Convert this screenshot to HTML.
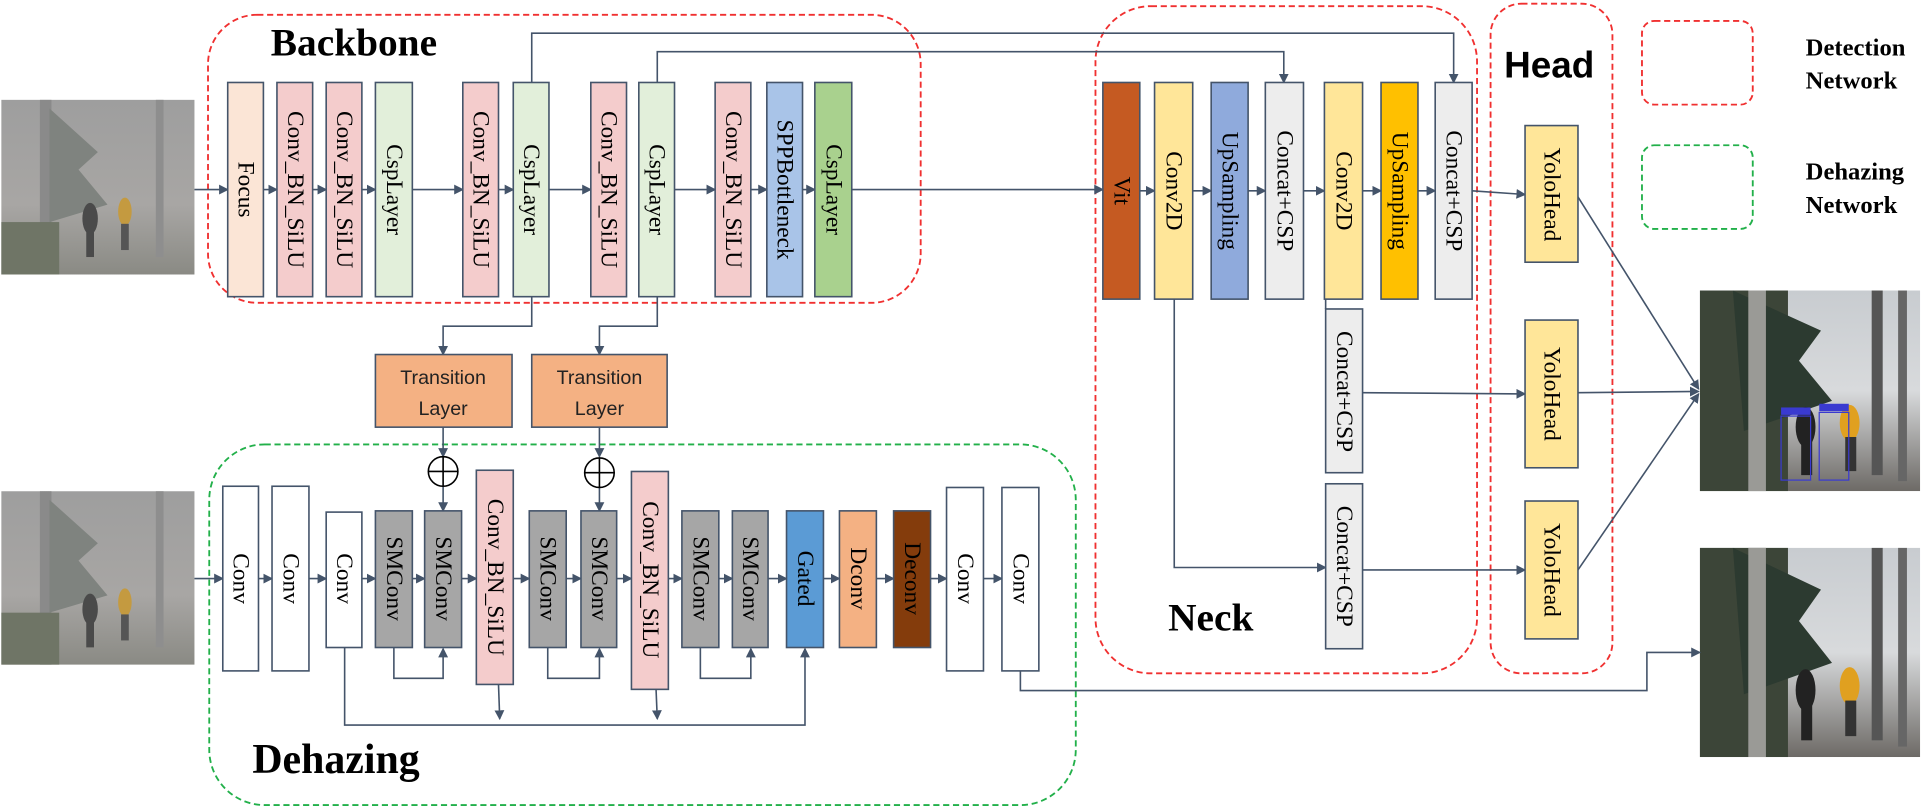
<!DOCTYPE html>
<html><head><meta charset="utf-8"><style>
html,body{margin:0;padding:0;background:#fff;}
svg{display:block;}
.b{stroke:#44546a;stroke-width:1.3;}
.t{font-family:"Liberation Serif",serif;font-size:19px;fill:#000;}
.ln{fill:none;stroke:#44546a;stroke-width:1.3;}
.big{font-family:"Liberation Serif",serif;font-weight:bold;fill:#000;}
</style></head><body>
<svg width="1930" height="810" viewBox="0 0 1568 658" preserveAspectRatio="none" xmlns="http://www.w3.org/2000/svg">
<defs>
<marker id="a" markerWidth="8" markerHeight="8" refX="7" refY="4" orient="auto" markerUnits="userSpaceOnUse"><path d="M0,0 L8,4 L0,8 z" fill="#44546a"/></marker>
<linearGradient id="haze" x1="0" y1="0" x2="0" y2="1"><stop offset="0" stop-color="#9e9e9e"/><stop offset="0.6" stop-color="#a8a6a4"/><stop offset="1" stop-color="#8a8a84"/></linearGradient>
<linearGradient id="clear" x1="0" y1="0" x2="0" y2="1"><stop offset="0" stop-color="#c8ccd0"/><stop offset="0.5" stop-color="#d8dadc"/><stop offset="1" stop-color="#6d6a66"/></linearGradient>
<symbol id="hz" viewBox="0 0 100 100" preserveAspectRatio="none">
<rect width="100" height="100" fill="url(#haze)"/>
<rect x="20" y="0" width="6" height="100" fill="#8a8a8a"/>
<path d="M25 5 L50 30 L40 40 L55 60 L25 70 Z" fill="#7f837f"/>
<rect x="0" y="70" width="30" height="30" fill="#6f7566"/>
<rect x="80" y="0" width="4" height="90" fill="#8e8e8e"/>
<ellipse cx="46" cy="68" rx="4" ry="9" fill="#4a4a4a"/><rect x="44" y="75" width="4" height="15" fill="#4a4a4a"/>
<ellipse cx="64" cy="64" rx="3.5" ry="8" fill="#c49a40"/><rect x="62" y="71" width="4" height="15" fill="#555"/>
</symbol>
<symbol id="cl" viewBox="0 0 100 100" preserveAspectRatio="none">
<rect width="100" height="100" fill="url(#clear)"/>
<rect x="0" y="0" width="40" height="100" fill="#3c4538"/>
<path d="M15 0 L55 20 L45 35 L60 55 L20 70 Z" fill="#2c3a30"/>
<rect x="22" y="0" width="8" height="100" fill="#9a9a96"/>
<rect x="78" y="0" width="5" height="92" fill="#555"/><rect x="90" y="0" width="4" height="95" fill="#666"/>
<ellipse cx="48" cy="68" rx="4.5" ry="10" fill="#222"/><rect x="46" y="75" width="5" height="17" fill="#222"/>
<ellipse cx="68" cy="66" rx="4.5" ry="9" fill="#e0a020"/><rect x="66" y="73" width="5" height="17" fill="#333"/>
</symbol>
</defs>

<use href="#hz" x="1" y="81" width="157" height="142"/>
<use href="#hz" x="1" y="399" width="157" height="141"/>
<use href="#cl" x="1381" y="236" width="179" height="163"/>
<rect x="1447" y="338" width="24" height="52" fill="none" stroke="#3a3ad0" stroke-width="1"/>
<rect x="1478" y="335" width="24" height="55" fill="none" stroke="#3a3ad0" stroke-width="1"/>
<rect x="1447" y="331" width="24" height="6" fill="#3a3ad0"/><rect x="1478" y="328" width="24" height="6" fill="#3a3ad0"/>
<use href="#cl" x="1381" y="445" width="179" height="170"/>

<rect x="169" y="12" width="579" height="234" rx="40" fill="none" stroke="#f03030" stroke-width="1.5" stroke-dasharray="5,3"/>
<rect x="890" y="5" width="310" height="542" rx="45" fill="none" stroke="#f03030" stroke-width="1.5" stroke-dasharray="5,3"/>
<rect x="1211" y="3" width="99" height="544" rx="25" fill="none" stroke="#f03030" stroke-width="1.5" stroke-dasharray="5,3"/>
<rect x="170" y="361" width="704" height="293" rx="45" fill="none" stroke="#22b04a" stroke-width="1.5" stroke-dasharray="5,3"/>
<rect x="1334" y="17" width="90" height="68" rx="10" fill="none" stroke="#f03030" stroke-width="1.5" stroke-dasharray="5,3"/>
<rect x="1334" y="118" width="90" height="68" rx="10" fill="none" stroke="#22b04a" stroke-width="1.5" stroke-dasharray="5,3"/>

<text class="big" x="220" y="45" font-size="32">Backbone</text>
<text class="big" x="949" y="512" font-size="32">Neck</text>
<text class="big" x="1222" y="63" font-size="30" style="font-family:'Liberation Sans',sans-serif">Head</text>
<text class="big" x="205" y="628" font-size="34">Dehazing</text>
<text class="big" x="1467" y="45" font-size="20">Detection</text>
<text class="big" x="1467" y="72" font-size="20">Network</text>
<text class="big" x="1467" y="146" font-size="20">Dehazing</text>
<text class="big" x="1467" y="173" font-size="20">Network</text>

<g class="ln" marker-end="url(#a)">
<line x1="158" y1="154" x2="185" y2="154"/>
<line x1="214" y1="154" x2="225" y2="154"/>
<line x1="254" y1="154" x2="265" y2="154"/>
<line x1="294" y1="154" x2="305" y2="154"/>
<line x1="335" y1="154" x2="376" y2="154"/>
<line x1="405" y1="154" x2="417" y2="154"/>
<line x1="446" y1="154" x2="480" y2="154"/>
<line x1="548" y1="154" x2="581" y2="154"/>
<line x1="610" y1="154" x2="623" y2="154"/>
<line x1="652" y1="154" x2="662" y2="154"/>
<line x1="692" y1="154" x2="896" y2="154"/>
<polyline points="432,67 432,27 1181,27 1181,67"/>
<polyline points="534,67 534,42 1043,42 1043,67"/>
<polyline points="432,241 432,265 360,265 360,288"/>
<polyline points="534,241 534,265 487,265 487,288"/>
<line x1="360" y1="347" x2="360" y2="371"/>
<line x1="487" y1="347" x2="487" y2="371"/>
<line x1="360" y1="395" x2="360" y2="415"/>
<line x1="487" y1="396" x2="487" y2="415"/>
<line x1="926" y1="155" x2="938" y2="155"/>
<line x1="969" y1="155" x2="984" y2="155"/>
<line x1="1014" y1="155" x2="1028" y2="155"/>
<line x1="1059" y1="155" x2="1076" y2="155"/>
<line x1="1107" y1="155" x2="1122" y2="155"/>
<line x1="1152" y1="155" x2="1166" y2="155"/>
<line x1="1196" y1="155" x2="1239" y2="158"/>
<polyline points="954,243 954,461 1077,461"/>
<line x1="1107" y1="319" x2="1239" y2="320"/>
<line x1="1107" y1="463" x2="1239" y2="463"/>
<line x1="1282" y1="160" x2="1380" y2="316"/>
<line x1="1282" y1="319" x2="1380" y2="318"/>
<line x1="1282" y1="463" x2="1380" y2="320"/>
<polyline points="829,545 829,561 1338,561 1338,530 1381,530"/>
<line x1="158" y1="470" x2="181" y2="470"/>
<line x1="210" y1="470" x2="221" y2="470"/>
<line x1="251" y1="470" x2="265" y2="470"/>
<line x1="294" y1="470" x2="305" y2="470"/>
<line x1="335" y1="470" x2="345" y2="470"/>
<line x1="375" y1="470" x2="387" y2="470"/>
<line x1="417" y1="470" x2="430" y2="470"/>
<line x1="460" y1="470" x2="472" y2="470"/>
<line x1="501" y1="470" x2="513" y2="470"/>
<line x1="543" y1="470" x2="554" y2="470"/>
<line x1="584" y1="470" x2="595" y2="470"/>
<line x1="624" y1="470" x2="639" y2="470"/>
<line x1="669" y1="470" x2="682" y2="470"/>
<line x1="712" y1="470" x2="726" y2="470"/>
<line x1="756" y1="470" x2="769" y2="470"/>
<line x1="799" y1="470" x2="814" y2="470"/>
<polyline points="320,526 320,551 360,551 360,527"/>
<polyline points="445,526 445,551 487,551 487,527"/>
<polyline points="569,526 569,551 610,551 610,527"/>
<polyline points="280,526 280,589 654,589 654,527"/>
<line x1="405" y1="556" x2="406" y2="584"/>
<line x1="533" y1="560" x2="534" y2="584"/>
</g>
<line x1="1077" y1="243" x2="1077" y2="251" class="ln"/>
<circle cx="360" cy="383" r="12" fill="#fff" stroke="#000" stroke-width="1.3"/>
<path d="M348 383 H372 M360 371 V395" stroke="#000" stroke-width="1.3"/>
<circle cx="487" cy="384" r="12" fill="#fff" stroke="#000" stroke-width="1.3"/>
<path d="M475 384 H499 M487 372 V396" stroke="#000" stroke-width="1.3"/>

<rect class="b" x="305" y="288" width="111" height="59" fill="#f4b183"/>
<rect class="b" x="432" y="288" width="110" height="59" fill="#f4b183"/>
<g style="font-family:'Liberation Sans',sans-serif" font-size="16" text-anchor="middle" fill="#222">
<text x="360" y="312">Transition</text><text x="360" y="337">Layer</text>
<text x="487" y="312">Transition</text><text x="487" y="337">Layer</text>
</g>

<g class="b">
<rect x="185" y="67" width="29" height="174" fill="#fbe5d6"/>
<rect x="225" y="67" width="29" height="174" fill="#f4cccc"/>
<rect x="265" y="67" width="29" height="174" fill="#f4cccc"/>
<rect x="305" y="67" width="30" height="174" fill="#e2efda"/>
<rect x="376" y="67" width="29" height="174" fill="#f4cccc"/>
<rect x="417" y="67" width="29" height="174" fill="#e2efda"/>
<rect x="480" y="67" width="29" height="174" fill="#f4cccc"/>
<rect x="519" y="67" width="29" height="174" fill="#e2efda"/>
<rect x="581" y="67" width="29" height="174" fill="#f4cccc"/>
<rect x="623" y="67" width="29" height="174" fill="#a9c4e8"/>
<rect x="662" y="67" width="30" height="174" fill="#a9d18e"/>
<rect x="896" y="67" width="30" height="176" fill="#c55a22"/>
<rect x="938" y="67" width="31" height="176" fill="#ffe699"/>
<rect x="984" y="67" width="30" height="176" fill="#8faadc"/>
<rect x="1028" y="67" width="31" height="176" fill="#ededed"/>
<rect x="1076" y="67" width="31" height="176" fill="#ffe699"/>
<rect x="1122" y="67" width="30" height="176" fill="#ffc000"/>
<rect x="1166" y="67" width="30" height="176" fill="#ededed"/>
<rect x="1077" y="251" width="30" height="133" fill="#ededed"/>
<rect x="1077" y="393" width="30" height="134" fill="#ededed"/>
<rect x="1239" y="102" width="43" height="111" fill="#ffe699"/>
<rect x="1239" y="260" width="43" height="120" fill="#ffe699"/>
<rect x="1239" y="407" width="43" height="112" fill="#ffe699"/>
<rect x="181" y="395" width="29" height="150" fill="#fff"/>
<rect x="221" y="395" width="30" height="150" fill="#fff"/>
<rect x="265" y="416" width="29" height="110" fill="#fff"/>
<rect x="305" y="415" width="30" height="111" fill="#a6a6a6"/>
<rect x="345" y="415" width="30" height="111" fill="#a6a6a6"/>
<rect x="387" y="382" width="30" height="174" fill="#f4cccc"/>
<rect x="430" y="415" width="30" height="111" fill="#a6a6a6"/>
<rect x="472" y="415" width="29" height="111" fill="#a6a6a6"/>
<rect x="513" y="383" width="30" height="177" fill="#f4cccc"/>
<rect x="554" y="415" width="30" height="111" fill="#a6a6a6"/>
<rect x="595" y="415" width="29" height="111" fill="#a6a6a6"/>
<rect x="639" y="415" width="30" height="111" fill="#5b9bd5"/>
<rect x="682" y="415" width="30" height="111" fill="#f4b183"/>
<rect x="726" y="415" width="30" height="111" fill="#843c0c"/>
<rect x="769" y="396" width="30" height="149" fill="#fff"/>
<rect x="814" y="396" width="30" height="149" fill="#fff"/>
</g>

<g class="t" text-anchor="middle" dominant-baseline="central">
<text transform="translate(199.5,154) rotate(90)">Focus</text>
<text transform="translate(239.5,154) rotate(90)">Conv_BN_SiLU</text>
<text transform="translate(279.5,154) rotate(90)">Conv_BN_SiLU</text>
<text transform="translate(320,154) rotate(90)">CspLayer</text>
<text transform="translate(390.5,154) rotate(90)">Conv_BN_SiLU</text>
<text transform="translate(431.5,154) rotate(90)">CspLayer</text>
<text transform="translate(494.5,154) rotate(90)">Conv_BN_SiLU</text>
<text transform="translate(533.5,154) rotate(90)">CspLayer</text>
<text transform="translate(595.5,154) rotate(90)">Conv_BN_SiLU</text>
<text transform="translate(637.5,154) rotate(90)">SPPBottleneck</text>
<text transform="translate(677,154) rotate(90)">CspLayer</text>
<text transform="translate(911,155) rotate(90)">Vit</text>
<text transform="translate(953.5,155) rotate(90)">Conv2D</text>
<text transform="translate(999,155) rotate(90)">UpSampling</text>
<text transform="translate(1043.5,155) rotate(90)">Concat+CSP</text>
<text transform="translate(1091.5,155) rotate(90)">Conv2D</text>
<text transform="translate(1137,155) rotate(90)">UpSampling</text>
<text transform="translate(1181,155) rotate(90)">Concat+CSP</text>
<text transform="translate(1092,318) rotate(90)">Concat+CSP</text>
<text transform="translate(1092,460) rotate(90)">Concat+CSP</text>
<text transform="translate(1260.5,158) rotate(90)">YoloHead</text>
<text transform="translate(1260.5,320) rotate(90)">YoloHead</text>
<text transform="translate(1260.5,463) rotate(90)">YoloHead</text>
<text transform="translate(195.5,470) rotate(90)">Conv</text>
<text transform="translate(236,470) rotate(90)">Conv</text>
<text transform="translate(279.5,470) rotate(90)">Conv</text>
<text transform="translate(320,470) rotate(90)">SMConv</text>
<text transform="translate(360,470) rotate(90)">SMConv</text>
<text transform="translate(402,469) rotate(90)">Conv_BN_SiLU</text>
<text transform="translate(445,470) rotate(90)">SMConv</text>
<text transform="translate(486.5,470) rotate(90)">SMConv</text>
<text transform="translate(528,471) rotate(90)">Conv_BN_SiLU</text>
<text transform="translate(569,470) rotate(90)">SMConv</text>
<text transform="translate(609.5,470) rotate(90)">SMConv</text>
<text transform="translate(654,470) rotate(90)">Gated</text>
<text transform="translate(697,470) rotate(90)">Dconv</text>
<text transform="translate(741,470) rotate(90)">Deconv</text>
<text transform="translate(784,470) rotate(90)">Conv</text>
<text transform="translate(829,470) rotate(90)">Conv</text>
</g>
</svg>
</body></html>
